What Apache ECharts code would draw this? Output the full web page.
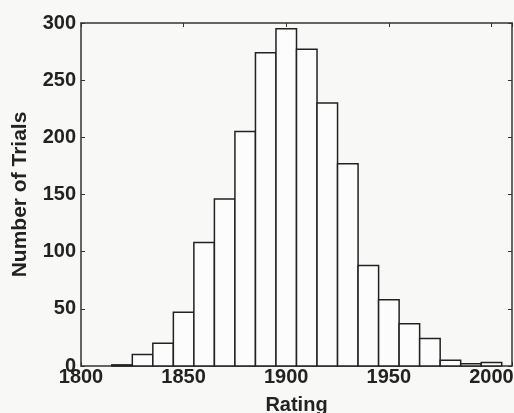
<!DOCTYPE html>
<html>
<head>
<meta charset="utf-8">
<script src="https://cdn.jsdelivr.net/npm/echarts@6/dist/echarts.min.js"></script>
<style>
  html, body { margin: 0; padding: 0; background: #f8f8f6; }
  #container { width: 514px; height: 413px; }
</style>
</head>
<body>
<div id="container"></div>
<script>
// histogram bins: centre of each 10-point bin and its count
var binCenters = [1820, 1830, 1840, 1850, 1860, 1870, 1880, 1890, 1900, 1910,
                  1920, 1930, 1940, 1950, 1960, 1970, 1980, 1990, 2000];
var counts = [1, 10, 20, 47, 108, 146, 205, 274, 295, 277,
              230, 177, 88, 58, 37, 24, 5, 2, 3];
var binWidth = 10;

var data = binCenters.map(function (c, i) {
    return [c - binWidth / 2, c + binWidth / 2, counts[i]];
});

var dom = document.getElementById("container");
var myChart = echarts.init(dom);

var font = 'Liberation Sans, Arial, sans-serif';
var lineCol = '#333';
var labelStyle = { color: '#222', fontSize: 20, fontWeight: 'bold', fontFamily: font };

var option = {
    backgroundColor: '#f8f8f6',
    animation: false,
    grid: { left: 81, top: 23, right: 2, bottom: 47, outerBoundsMode: 'none', containLabel: false },
    xAxis: [{
        type: 'value',
        min: 1800,
        max: 2010,
        interval: 50,
        name: 'Rating',
        nameLocation: 'middle',
        nameGap: 29,
        nameTextStyle: labelStyle,
        axisLine: { lineStyle: { color: lineCol, width: 1.5 } },
        axisTick: { inside: true, length: 4, lineStyle: { color: lineCol } },
        axisLabel: Object.assign({ margin: 1, formatter: function (v) { return v % 50 === 0 ? v : ''; } }, labelStyle),
        splitLine: { show: false }
    }, {
        type: 'value',
        position: 'top',
        min: 1800,
        max: 2010,
        interval: 50,
        axisLine: { onZero: false, lineStyle: { color: lineCol, width: 1.5 } },
        axisTick: { inside: true, length: 4, lineStyle: { color: lineCol } },
        axisLabel: { show: false },
        splitLine: { show: false }
    }],
    yAxis: [{
        type: 'value',
        min: 0,
        max: 300,
        interval: 50,
        name: 'Number of Trials',
        nameLocation: 'middle',
        nameGap: 50,
        nameTextStyle: Object.assign({}, labelStyle, { fontSize: 21 }),
        axisLine: { show: true, lineStyle: { color: lineCol, width: 1.5 } },
        axisTick: { show: true, inside: true, length: 4, lineStyle: { color: lineCol } },
        axisLabel: Object.assign({ margin: 5 }, labelStyle),
        splitLine: { show: false }
    }, {
        type: 'value',
        position: 'right',
        min: 0,
        max: 300,
        interval: 50,
        axisLine: { show: true, onZero: false, lineStyle: { color: lineCol, width: 1.5 } },
        axisTick: { show: true, inside: true, length: 4, lineStyle: { color: lineCol } },
        axisLabel: { show: false },
        splitLine: { show: false }
    }],
    series: [{
        type: 'custom',
        data: data,
        renderItem: function (params, api) {
            var p0 = api.coord([api.value(0), api.value(2)]);
            var p1 = api.coord([api.value(1), 0]);
            return {
                type: 'rect',
                shape: { x: p0[0], y: p0[1], width: p1[0] - p0[0], height: p1[1] - p0[1] },
                style: { fill: '#fcfcfc', stroke: '#222', lineWidth: 1.5 }
            };
        }
    }]
};

myChart.setOption(option);
</script>
</body>
</html>
